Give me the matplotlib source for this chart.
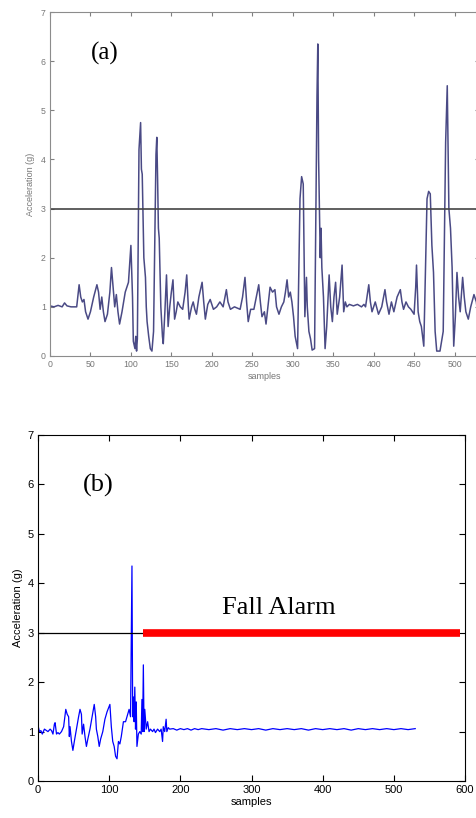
import matplotlib
matplotlib.use("Agg")
import matplotlib.pyplot as plt

# (a) acceleration trace, vertices
a_samples = [0, 5, 10, 15, 18, 21, 26, 33, 36, 38, 40, 42, 44, 47, 50, 54, 58, 60, 62, 64,
             66, 68, 71, 74, 76, 78, 80, 82, 84, 86, 89, 93, 97, 100, 102, 103, 105, 106, 107, 108,
             110, 112, 113, 114, 116, 118, 119, 120, 122, 124, 126, 128, 131, 132, 133, 134, 135, 137, 139, 140,
             142, 144, 146, 148, 150, 152, 154, 156, 158, 161, 164, 167, 169, 171, 172, 175, 177, 179, 181, 184,
             188, 190, 192, 195, 198, 202, 206, 210, 214, 218, 220, 223, 228, 235, 238, 241, 243, 245, 248, 252,
             255, 258, 260, 262, 265, 267, 270, 272, 275, 278, 280, 283, 286, 289, 291, 293, 295, 297, 299, 301,
             303, 306, 309, 311, 313, 315, 317, 318, 320, 322, 324, 327, 330, 331, 332, 333, 334, 335, 336, 338,
             340, 342, 345, 347, 349, 351, 353, 355, 358, 361, 363, 365, 367, 370, 375, 380, 385, 388, 390, 394,
             396, 398, 402, 406, 410, 414, 416, 419, 422, 425, 429, 433, 435, 437, 440, 443, 446, 450, 452, 453,
             455, 457, 459, 462, 466, 468, 470, 472, 474, 476, 478, 482, 486, 489, 491, 493, 495, 497, 499, 501,
             503, 505, 507, 510, 512, 514, 517, 520, 524, 527, 529, 530]
a_values = [1.02, 1.0, 1.03, 1.0, 1.08, 1.02, 1.0, 1.0, 1.45, 1.2, 1.1, 1.15, 0.9, 0.75, 0.9, 1.2, 1.45, 1.3, 0.95, 1.2,
            0.9, 0.7, 0.85, 1.3, 1.8, 1.4, 1.0, 1.25, 0.9, 0.65, 0.9, 1.3, 1.5, 2.25, 1.2, 0.3, 0.15, 0.4, 0.1, 0.35,
            4.2, 4.75, 3.8, 3.7, 2.0, 1.6, 1.0, 0.7, 0.4, 0.15, 0.1, 0.5, 4.1, 4.45, 3.6, 2.6, 2.4, 1.0, 0.4, 0.25,
            0.9, 1.65, 0.6, 1.0, 1.3, 1.55, 0.75, 0.9, 1.1, 1.0, 0.95, 1.3, 1.65, 1.0, 0.75, 1.0, 1.1, 0.95, 0.85, 1.2,
            1.5, 1.1, 0.75, 1.05, 1.15, 0.95, 1.0, 1.1, 1.0, 1.35, 1.1, 0.95, 1.0, 0.95, 1.2, 1.6, 1.1, 0.7, 0.95, 0.95,
            1.2, 1.45, 1.1, 0.8, 0.9, 0.65, 1.1, 1.4, 1.3, 1.35, 1.0, 0.85, 1.0, 1.1, 1.3, 1.55, 1.2, 1.3, 1.1, 0.8,
            0.4, 0.15, 3.2, 3.65, 3.5, 0.8, 1.6, 1.0, 0.5, 0.35, 0.12, 0.15, 5.3, 6.35, 4.0, 3.0, 2.0, 2.6, 1.8, 1.2,
            0.15, 0.6, 1.65, 1.0, 0.7, 1.2, 1.5, 0.85, 1.2, 1.85, 0.9, 1.1, 1.0, 1.05, 1.02, 1.05, 1.0, 1.05, 1.0, 1.45,
            1.1, 0.9, 1.1, 0.85, 1.0, 1.35, 1.1, 0.85, 1.1, 0.9, 1.2, 1.35, 1.1, 0.95, 1.1, 1.0, 0.95, 0.85, 1.4, 1.85,
            0.9, 0.7, 0.6, 0.2, 3.2, 3.35, 3.3, 2.25, 1.7, 0.5, 0.1, 0.1, 0.5, 4.35, 5.5, 3.0, 2.6, 1.8, 0.2, 0.8,
            1.7, 1.2, 0.9, 1.6, 1.2, 0.9, 0.75, 1.0, 1.25, 1.1, 0.8, 1.0]

# (b) acceleration trace with fall alarm
b_samples = [0, 2, 4, 6, 9, 12, 14, 17, 19, 21, 23, 24, 26, 28, 30, 33, 36, 39, 41, 43,
             44, 45, 47, 49, 51, 54, 57, 59, 61, 62, 64, 66, 68, 70, 73, 76, 79, 81, 82, 84,
             86, 88, 91, 94, 97, 101, 103, 105, 107, 109, 111, 113, 115, 117, 120, 123, 126, 128, 130, 131,
             132, 133, 134, 135, 136, 137, 138, 139, 141, 143, 145, 146, 147, 148, 149, 150, 152, 154, 156, 158,
             161, 163, 165, 168, 171, 173, 175, 176, 178, 180, 181, 183, 185,
             190, 195, 200, 205, 210, 215, 220, 225, 230, 240, 250, 260, 270, 280, 290, 300, 310, 320,
             330, 340, 350, 360, 370, 380, 390, 400, 410, 420, 430, 440, 450, 460, 470, 480, 490, 500,
             510, 520, 530]
b_values = [1.12, 1.0, 1.02, 0.95, 1.05, 1.02, 1.0, 1.05, 1.02, 0.95, 1.15, 1.18, 0.95, 0.98, 0.95, 1.0, 1.1, 1.45, 1.35, 1.3,
            0.9, 1.1, 0.8, 0.62, 0.8, 1.05, 1.3, 1.45, 1.35, 0.95, 1.15, 0.9, 0.7, 0.85, 1.05, 1.3, 1.55, 1.3, 1.05, 0.9,
            0.7, 0.85, 1.0, 1.25, 1.4, 1.55, 1.1, 0.8, 0.7, 0.5, 0.45, 0.8, 0.75, 0.9, 1.2, 1.2, 1.35, 1.45, 1.3, 2.95,
            4.35, 1.3, 1.7, 1.2, 1.9, 1.05, 1.6, 0.7, 0.95, 1.0, 0.95, 1.65, 1.0, 2.35, 1.0, 1.45, 1.05, 1.2, 1.0, 1.05,
            1.0, 1.05, 0.98, 1.05, 1.0, 1.05, 0.8, 1.1, 1.0, 1.25, 1.0, 1.08, 1.05,
            1.06, 1.03, 1.06, 1.04, 1.06, 1.03, 1.06, 1.04, 1.06, 1.04, 1.06, 1.03, 1.06, 1.04, 1.06, 1.04, 1.06, 1.03,
            1.06, 1.04, 1.06, 1.04, 1.06, 1.03, 1.06, 1.04, 1.06, 1.04, 1.06, 1.03, 1.06, 1.04, 1.06, 1.04, 1.06, 1.04,
            1.06, 1.04, 1.06]

threshold = 3.0
alarm_start = 148
alarm_end = 593

serif = "Liberation Serif"
sans = "Liberation Sans"

fig = plt.figure(figsize=(4.77, 8.18), dpi=100)

# ---- panel (a)
ax1 = fig.add_axes([0.1048, 0.5648, 0.899, 0.4205])
ax1.plot(a_samples, a_values, color="#4a4a85", linewidth=1.1)
ax1.axhline(threshold, color="#444444", linewidth=1.2)
ax1.set_xlim(0, 530)
ax1.set_ylim(0, 7)
ax1.set_xticks(range(0, 501, 50))
ax1.set_yticks(range(0, 8))
ax1.tick_params(direction="in", top=True, right=True, length=3, labelsize=6.3,
                colors="#808080", labelcolor="#777777", pad=3)
for s in ax1.spines.values():
    s.set_color("#8c8c8c")
ax1.set_xlabel("samples", fontsize=6.5, color="#777777", family=sans, labelpad=2)
ax1.set_ylabel("Acceleration (g)", fontsize=6.5, color="#777777", family=sans, labelpad=4)
for lab in ax1.get_xticklabels() + ax1.get_yticklabels():
    lab.set_family(sans)
ax1.text(0.095, 0.88, "(a)", transform=ax1.transAxes, fontsize=18, family=serif,
         ha="left", va="center")

# ---- panel (b)
ax2 = fig.add_axes([0.0797, 0.0452, 0.8952, 0.423])
ax2.plot(b_samples, b_values, color="#0000ff", linewidth=0.9)
ax2.hlines(threshold, 0, alarm_start, color="black", linewidth=0.9)
ax2.hlines(threshold, alarm_start, alarm_end, color="#ff0000", linewidth=5.5)
ax2.set_xlim(0, 600)
ax2.set_ylim(0, 7)
ax2.set_xticks(range(0, 601, 100))
ax2.set_yticks(range(0, 8))
ax2.tick_params(direction="in", top=True, right=True, length=4, labelsize=8, pad=3)
ax2.set_xlabel("samples", fontsize=8, family=sans, labelpad=1)
ax2.set_ylabel("Acceleration (g)", fontsize=8, family=sans, labelpad=3)
for lab in ax2.get_xticklabels() + ax2.get_yticklabels():
    lab.set_family(sans)
ax2.text(0.105, 0.855, "(b)", transform=ax2.transAxes, fontsize=19, family=serif,
         ha="left", va="center")
ax2.text(338, 3.5, "Fall Alarm", fontsize=19, family=serif, ha="center", va="center")

fig.savefig("out.png", dpi=100)
